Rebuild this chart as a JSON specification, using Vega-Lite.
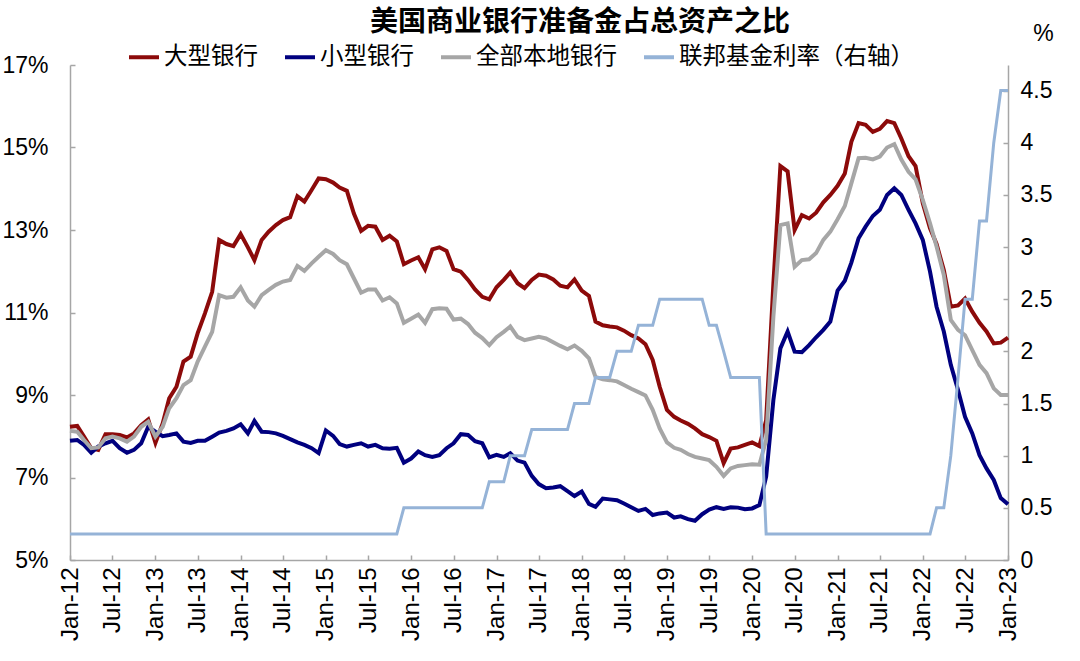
{
  "$schema": "https://vega.github.io/schema/vega-lite/v6.json",
  "width": 938,
  "height": 495,
  "autosize": {"type": "none"},
  "padding": {"left": 70, "top": 65, "right": 72, "bottom": 101},
  "background": "white",
  "config": {
    "font": "Liberation Sans",
    "view": {"stroke": null},
    "axis": {"grid": false, "domainColor": "#A6A6A6", "tickColor": "#A6A6A6", "labelColor": "#000000", "labelFont": "Liberation Sans", "labelFontSize": 23, "domainWidth": 1.5, "tickWidth": 1.5}
  },
  "title": {"text": "美国商业银行准备金占总资产之比", "font": "Noto Sans CJK SC", "fontSize": 28, "fontWeight": "bold", "color": "#000000", "anchor": "middle", "frame": "group", "dx": 41, "dy": 23, "offset": 8},
  "data": {"values": [
    {"d":"2012-01-01","large":8.23,"small":7.89,"all":8.13,"ffr":0.25},
    {"d":"2012-02-01","large":8.25,"small":7.91,"all":8.11,"ffr":0.25},
    {"d":"2012-03-01","large":7.99,"small":7.79,"all":7.91,"ffr":0.25},
    {"d":"2012-04-01","large":7.71,"small":7.60,"all":7.71,"ffr":0.25},
    {"d":"2012-05-01","large":7.67,"small":7.75,"all":7.73,"ffr":0.25},
    {"d":"2012-06-01","large":8.05,"small":7.83,"all":7.95,"ffr":0.25},
    {"d":"2012-07-01","large":8.05,"small":7.89,"all":7.99,"ffr":0.25},
    {"d":"2012-08-01","large":8.03,"small":7.71,"all":7.95,"ffr":0.25},
    {"d":"2012-09-01","large":7.97,"small":7.60,"all":7.87,"ffr":0.25},
    {"d":"2012-10-01","large":8.07,"small":7.67,"all":7.99,"ffr":0.25},
    {"d":"2012-11-01","large":8.27,"small":7.83,"all":8.23,"ffr":0.25},
    {"d":"2012-12-01","large":8.41,"small":8.23,"all":8.35,"ffr":0.25},
    {"d":"2013-01-01","large":7.84,"small":8.11,"all":7.99,"ffr":0.25},
    {"d":"2013-02-01","large":8.31,"small":8.00,"all":8.23,"ffr":0.25},
    {"d":"2013-03-01","large":8.92,"small":8.03,"all":8.68,"ffr":0.25},
    {"d":"2013-04-01","large":9.20,"small":8.07,"all":8.92,"ffr":0.25},
    {"d":"2013-05-01","large":9.81,"small":7.87,"all":9.24,"ffr":0.25},
    {"d":"2013-06-01","large":9.93,"small":7.84,"all":9.36,"ffr":0.25},
    {"d":"2013-07-01","large":10.50,"small":7.89,"all":9.81,"ffr":0.25},
    {"d":"2013-08-01","large":10.98,"small":7.89,"all":10.17,"ffr":0.25},
    {"d":"2013-09-01","large":11.50,"small":7.99,"all":10.53,"ffr":0.25},
    {"d":"2013-10-01","large":12.76,"small":8.09,"all":11.42,"ffr":0.25},
    {"d":"2013-11-01","large":12.66,"small":8.13,"all":11.36,"ffr":0.25},
    {"d":"2013-12-01","large":12.61,"small":8.19,"all":11.38,"ffr":0.25},
    {"d":"2014-01-01","large":12.90,"small":8.29,"all":11.61,"ffr":0.25},
    {"d":"2014-02-01","large":12.58,"small":8.07,"all":11.29,"ffr":0.25},
    {"d":"2014-03-01","large":12.27,"small":8.37,"all":11.14,"ffr":0.25},
    {"d":"2014-04-01","large":12.76,"small":8.11,"all":11.42,"ffr":0.25},
    {"d":"2014-05-01","large":12.96,"small":8.10,"all":11.55,"ffr":0.25},
    {"d":"2014-06-01","large":13.12,"small":8.07,"all":11.67,"ffr":0.25},
    {"d":"2014-07-01","large":13.24,"small":8.01,"all":11.75,"ffr":0.25},
    {"d":"2014-08-01","large":13.31,"small":7.93,"all":11.79,"ffr":0.25},
    {"d":"2014-09-01","large":13.82,"small":7.85,"all":12.13,"ffr":0.25},
    {"d":"2014-10-01","large":13.69,"small":7.79,"all":12.01,"ffr":0.25},
    {"d":"2014-11-01","large":13.97,"small":7.71,"all":12.19,"ffr":0.25},
    {"d":"2014-12-01","large":14.25,"small":7.59,"all":12.35,"ffr":0.25},
    {"d":"2015-01-01","large":14.23,"small":8.14,"all":12.51,"ffr":0.25},
    {"d":"2015-02-01","large":14.15,"small":8.01,"all":12.42,"ffr":0.25},
    {"d":"2015-03-01","large":14.03,"small":7.81,"all":12.27,"ffr":0.25},
    {"d":"2015-04-01","large":13.95,"small":7.75,"all":12.17,"ffr":0.25},
    {"d":"2015-05-01","large":13.40,"small":7.79,"all":11.83,"ffr":0.25},
    {"d":"2015-06-01","large":12.98,"small":7.83,"all":11.48,"ffr":0.25},
    {"d":"2015-07-01","large":13.10,"small":7.75,"all":11.56,"ffr":0.25},
    {"d":"2015-08-01","large":13.08,"small":7.79,"all":11.56,"ffr":0.25},
    {"d":"2015-09-01","large":12.76,"small":7.71,"all":11.29,"ffr":0.25},
    {"d":"2015-10-01","large":12.86,"small":7.70,"all":11.37,"ffr":0.25},
    {"d":"2015-11-01","large":12.72,"small":7.72,"all":11.22,"ffr":0.25},
    {"d":"2015-12-01","large":12.17,"small":7.36,"all":10.75,"ffr":0.5},
    {"d":"2016-01-01","large":12.26,"small":7.46,"all":10.85,"ffr":0.5},
    {"d":"2016-02-01","large":12.34,"small":7.63,"all":10.95,"ffr":0.5},
    {"d":"2016-03-01","large":12.05,"small":7.54,"all":10.75,"ffr":0.5},
    {"d":"2016-04-01","large":12.53,"small":7.50,"all":11.08,"ffr":0.5},
    {"d":"2016-05-01","large":12.58,"small":7.54,"all":11.10,"ffr":0.5},
    {"d":"2016-06-01","large":12.49,"small":7.71,"all":11.09,"ffr":0.5},
    {"d":"2016-07-01","large":12.05,"small":7.83,"all":10.83,"ffr":0.5},
    {"d":"2016-08-01","large":11.99,"small":8.05,"all":10.85,"ffr":0.5},
    {"d":"2016-09-01","large":11.79,"small":8.03,"all":10.72,"ffr":0.5},
    {"d":"2016-10-01","large":11.56,"small":7.88,"all":10.51,"ffr":0.5},
    {"d":"2016-11-01","large":11.38,"small":7.83,"all":10.38,"ffr":0.5},
    {"d":"2016-12-01","large":11.32,"small":7.49,"all":10.21,"ffr":0.75},
    {"d":"2017-01-01","large":11.61,"small":7.55,"all":10.40,"ffr":0.75},
    {"d":"2017-02-01","large":11.79,"small":7.50,"all":10.53,"ffr":0.75},
    {"d":"2017-03-01","large":11.97,"small":7.59,"all":10.66,"ffr":1.0},
    {"d":"2017-04-01","large":11.71,"small":7.41,"all":10.41,"ffr":1.0},
    {"d":"2017-05-01","large":11.59,"small":7.36,"all":10.33,"ffr":1.0},
    {"d":"2017-06-01","large":11.79,"small":7.04,"all":10.37,"ffr":1.25},
    {"d":"2017-07-01","large":11.92,"small":6.84,"all":10.41,"ffr":1.25},
    {"d":"2017-08-01","large":11.89,"small":6.74,"all":10.37,"ffr":1.25},
    {"d":"2017-09-01","large":11.80,"small":6.76,"all":10.28,"ffr":1.25},
    {"d":"2017-10-01","large":11.65,"small":6.79,"all":10.19,"ffr":1.25},
    {"d":"2017-11-01","large":11.61,"small":6.67,"all":10.11,"ffr":1.25},
    {"d":"2017-12-01","large":11.80,"small":6.55,"all":10.20,"ffr":1.5},
    {"d":"2018-01-01","large":11.53,"small":6.66,"all":10.07,"ffr":1.5},
    {"d":"2018-02-01","large":11.40,"small":6.36,"all":9.89,"ffr":1.5},
    {"d":"2018-03-01","large":10.78,"small":6.29,"all":9.44,"ffr":1.75},
    {"d":"2018-04-01","large":10.69,"small":6.49,"all":9.38,"ffr":1.75},
    {"d":"2018-05-01","large":10.66,"small":6.47,"all":9.36,"ffr":1.75},
    {"d":"2018-06-01","large":10.64,"small":6.45,"all":9.33,"ffr":2.0},
    {"d":"2018-07-01","large":10.56,"small":6.37,"all":9.24,"ffr":2.0},
    {"d":"2018-08-01","large":10.45,"small":6.28,"all":9.15,"ffr":2.0},
    {"d":"2018-09-01","large":10.37,"small":6.19,"all":9.07,"ffr":2.25},
    {"d":"2018-10-01","large":10.23,"small":6.24,"all":8.99,"ffr":2.25},
    {"d":"2018-11-01","large":9.85,"small":6.09,"all":8.64,"ffr":2.25},
    {"d":"2018-12-01","large":9.20,"small":6.13,"all":8.19,"ffr":2.5},
    {"d":"2019-01-01","large":8.64,"small":6.15,"all":7.85,"ffr":2.5},
    {"d":"2019-02-01","large":8.47,"small":6.03,"all":7.72,"ffr":2.5},
    {"d":"2019-03-01","large":8.38,"small":6.06,"all":7.67,"ffr":2.5},
    {"d":"2019-04-01","large":8.30,"small":5.99,"all":7.57,"ffr":2.5},
    {"d":"2019-05-01","large":8.19,"small":5.95,"all":7.50,"ffr":2.5},
    {"d":"2019-06-01","large":8.05,"small":6.11,"all":7.46,"ffr":2.5},
    {"d":"2019-07-01","large":7.98,"small":6.22,"all":7.42,"ffr":2.25},
    {"d":"2019-08-01","large":7.89,"small":6.28,"all":7.26,"ffr":2.25},
    {"d":"2019-09-01","large":7.35,"small":6.24,"all":7.04,"ffr":2.0},
    {"d":"2019-10-01","large":7.70,"small":6.28,"all":7.22,"ffr":1.75},
    {"d":"2019-11-01","large":7.73,"small":6.27,"all":7.28,"ffr":1.75},
    {"d":"2019-12-01","large":7.79,"small":6.23,"all":7.30,"ffr":1.75},
    {"d":"2020-01-01","large":7.85,"small":6.25,"all":7.32,"ffr":1.75},
    {"d":"2020-02-01","large":7.76,"small":6.33,"all":7.31,"ffr":1.75},
    {"d":"2020-03-01","large":8.39,"small":7.02,"all":7.91,"ffr":0.25},
    {"d":"2020-04-01","large":11.70,"small":8.88,"all":10.90,"ffr":0.25},
    {"d":"2020-05-01","large":14.55,"small":10.13,"all":13.12,"ffr":0.25},
    {"d":"2020-06-01","large":14.42,"small":10.54,"all":13.16,"ffr":0.25},
    {"d":"2020-07-01","large":13.00,"small":10.05,"all":12.11,"ffr":0.25},
    {"d":"2020-08-01","large":13.36,"small":10.04,"all":12.27,"ffr":0.25},
    {"d":"2020-09-01","large":13.28,"small":10.21,"all":12.29,"ffr":0.25},
    {"d":"2020-10-01","large":13.42,"small":10.40,"all":12.44,"ffr":0.25},
    {"d":"2020-11-01","large":13.67,"small":10.58,"all":12.76,"ffr":0.25},
    {"d":"2020-12-01","large":13.85,"small":10.78,"all":12.96,"ffr":0.25},
    {"d":"2021-01-01","large":14.07,"small":11.53,"all":13.26,"ffr":0.25},
    {"d":"2021-02-01","large":14.37,"small":11.77,"all":13.58,"ffr":0.25},
    {"d":"2021-03-01","large":15.14,"small":12.21,"all":14.13,"ffr":0.25},
    {"d":"2021-04-01","large":15.59,"small":12.80,"all":14.74,"ffr":0.25},
    {"d":"2021-05-01","large":15.55,"small":13.08,"all":14.75,"ffr":0.25},
    {"d":"2021-06-01","large":15.38,"small":13.34,"all":14.71,"ffr":0.25},
    {"d":"2021-07-01","large":15.45,"small":13.49,"all":14.78,"ffr":0.25},
    {"d":"2021-08-01","large":15.64,"small":13.85,"all":15.00,"ffr":0.25},
    {"d":"2021-09-01","large":15.59,"small":14.01,"all":15.08,"ffr":0.25},
    {"d":"2021-10-01","large":15.22,"small":13.85,"all":14.71,"ffr":0.25},
    {"d":"2021-11-01","large":14.79,"small":13.49,"all":14.41,"ffr":0.25},
    {"d":"2021-12-01","large":14.55,"small":13.16,"all":14.23,"ffr":0.25},
    {"d":"2022-01-01","large":13.65,"small":12.76,"all":13.73,"ffr":0.25},
    {"d":"2022-02-01","large":13.04,"small":11.99,"all":13.16,"ffr":0.25},
    {"d":"2022-03-01","large":12.66,"small":11.14,"all":12.60,"ffr":0.5},
    {"d":"2022-04-01","large":12.03,"small":10.54,"all":11.91,"ffr":0.5},
    {"d":"2022-05-01","large":11.14,"small":9.73,"all":10.82,"ffr":1.0},
    {"d":"2022-06-01","large":11.17,"small":9.12,"all":10.58,"ffr":1.75},
    {"d":"2022-07-01","large":11.34,"small":8.47,"all":10.45,"ffr":2.5},
    {"d":"2022-08-01","large":11.02,"small":8.07,"all":10.09,"ffr":2.5},
    {"d":"2022-09-01","large":10.75,"small":7.54,"all":9.73,"ffr":3.25},
    {"d":"2022-10-01","large":10.54,"small":7.22,"all":9.53,"ffr":3.25},
    {"d":"2022-11-01","large":10.25,"small":6.94,"all":9.16,"ffr":4.0},
    {"d":"2022-12-01","large":10.27,"small":6.50,"all":9.00,"ffr":4.5},
    {"d":"2023-01-01","large":10.39,"small":6.35,"all":9.00,"ffr":4.5}
  ]},
  "encoding": {
    "x": {"field": "d", "type": "temporal",
      "scale": {"type": "utc", "domain": [{"year": 2012, "month": 1, "date": 1, "utc": true}, {"year": 2023, "month": 1, "date": 1, "utc": true}], "nice": false},
      "axis": {"title": null, "format": "%b-%y", "tickCount": {"interval": "month", "step": 6}, "labelAngle": -90, "labelFontSize": 24, "tickSize": -5, "labelPadding": 12, "labelOverlap": false, "labelFlush": false}}
  },
  "layer": [
    {
      "layer": [
        {"mark": {"type": "line", "strokeWidth": 4},
         "encoding": {
           "y": {"field": "large", "type": "quantitative", "scale": {"domain": [5, 17], "nice": false, "zero": false},
             "axis": {"title": null, "values": [5, 7, 9, 11, 13, 15, 17], "labelExpr": "datum.value + '%'", "tickSize": -5, "labelPadding": 27}},
           "color": {"datum": "大型银行", "type": "nominal",
             "scale": {"domain": ["大型银行", "小型银行", "全部本地银行", "联邦基金利率（右轴）"], "range": ["#8C0A0A", "#00007F", "#A6A6A6", "#95B3D7"]},
             "legend": {"orient": "none", "legendX": 57, "legendY": -25, "direction": "horizontal", "columns": 4, "title": null, "labelFont": "Noto Sans CJK SC", "labelFontSize": 23.5, "labelColor": "#000000", "labelLimit": 400, "symbolType": "stroke", "symbolSize": 900, "symbolStrokeWidth": 4, "columnPadding": 19, "labelOffset": 3, "padding": 0}}
         }},
        {"mark": {"type": "line", "strokeWidth": 4},
         "encoding": {"y": {"field": "small", "type": "quantitative"}, "color": {"datum": "小型银行", "type": "nominal"}}},
        {"mark": {"type": "line", "strokeWidth": 4},
         "encoding": {"y": {"field": "all", "type": "quantitative"}, "color": {"datum": "全部本地银行", "type": "nominal"}}}
      ]
    },
    {"mark": {"type": "line", "strokeWidth": 3},
     "encoding": {
       "y": {"field": "ffr", "type": "quantitative", "scale": {"domain": [0, 4.745], "nice": false, "zero": false},
         "axis": {"orient": "right", "values": [0, 0.5, 1, 1.5, 2, 2.5, 3, 3.5, 4, 4.5], "format": "~g", "tickSize": -5, "labelPadding": 17,
           "title": "%", "titleAngle": 0, "titleX": 35, "titleY": -32, "titleFontSize": 23, "titleFontWeight": "normal", "titleFont": "Liberation Sans", "titleAlign": "center", "titleBaseline": "middle", "titleColor": "#000000"}},
       "color": {"datum": "联邦基金利率（右轴）", "type": "nominal"}
     }}
  ],
  "resolve": {"scale": {"y": "independent"}}
}
